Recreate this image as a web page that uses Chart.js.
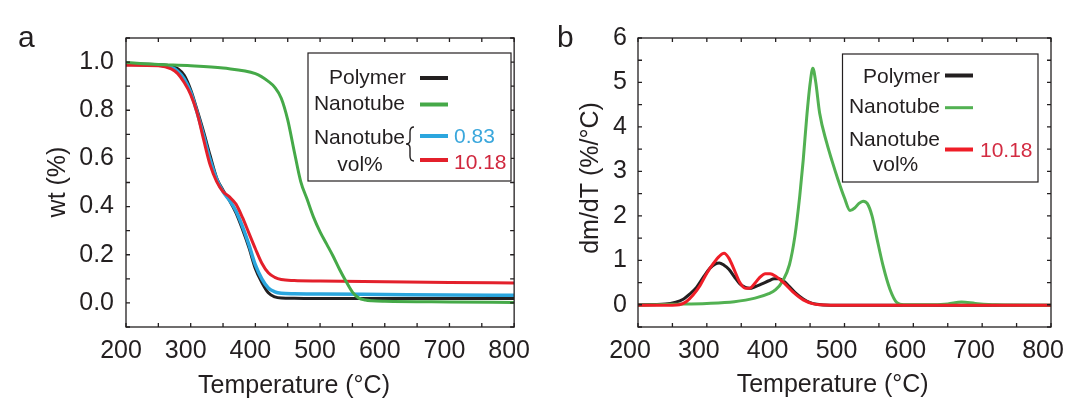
<!DOCTYPE html>
<html>
<head>
<meta charset="utf-8">
<script src="https://cdn.jsdelivr.net/npm/chart.js@4.4.1/dist/chart.umd.min.js"></script>
<style>
  html, body { margin: 0; padding: 0; background: #fff; }
  #wrap { position: relative; width: 1088px; height: 403px; }
  canvas { position: absolute; top: 0; }
  #chartA { left: 0; }
  #chartB { left: 544px; }
</style>
</head>
<body>
<div id="wrap">
  <canvas id="chartA" width="544" height="403"></canvas>
  <canvas id="chartB" width="544" height="403"></canvas>
</div>
<script>
// Panel a: weight fraction vs temperature (TGA)
const polymerTemp = [200, 250, 270, 280, 290, 300, 310, 320, 330, 340, 350, 360, 370, 380, 390, 400, 410, 420, 430, 440, 460, 500, 600, 700, 800];
const polymerWt   = [0.993, 0.99, 0.984, 0.972, 0.945, 0.885, 0.80, 0.71, 0.612, 0.52, 0.468, 0.425, 0.374, 0.306, 0.23, 0.142, 0.085, 0.042, 0.025, 0.02, 0.019, 0.018, 0.018, 0.018, 0.018];

const lowVolTemp = [200, 250, 270, 280, 290, 300, 310, 320, 330, 340, 350, 360, 370, 380, 390, 400, 410, 420, 430, 440, 460, 500, 600, 700, 800];
const lowVolWt   = [0.99, 0.988, 0.978, 0.962, 0.93, 0.875, 0.79, 0.695, 0.595, 0.515, 0.462, 0.426, 0.382, 0.318, 0.242, 0.158, 0.1, 0.062, 0.046, 0.04, 0.038, 0.037, 0.035, 0.033, 0.032];

const highVolTemp = [200, 250, 270, 280, 290, 300, 310, 320, 330, 340, 350, 360, 370, 380, 390, 400, 410, 420, 430, 440, 460, 500, 600, 700, 800];
const highVolWt   = [0.987, 0.985, 0.972, 0.952, 0.915, 0.865, 0.788, 0.678, 0.573, 0.505, 0.462, 0.44, 0.41, 0.355, 0.29, 0.225, 0.165, 0.125, 0.106, 0.097, 0.093, 0.091, 0.088, 0.085, 0.083];

const nanotubeTemp = [200, 250, 300, 350, 400, 420, 430, 440, 450, 460, 470, 480, 490, 500, 510, 520, 530, 540, 550, 560, 570, 580, 600, 700, 800];
const nanotubeWt   = [0.998, 0.99, 0.985, 0.975, 0.952, 0.92, 0.895, 0.85, 0.76, 0.63, 0.505, 0.43, 0.355, 0.295, 0.245, 0.195, 0.14, 0.09, 0.045, 0.02, 0.012, 0.009, 0.007, 0.004, 0.002];

// Panel b: derivative dm/dT vs temperature
const dtgPolymerTemp = [200, 240, 255, 265, 275, 285, 295, 305, 312, 318, 325, 332, 340, 348, 356, 362, 370, 380, 390, 398, 405, 412, 420, 430, 440, 450, 460, 480, 600, 800];
const dtgPolymer     = [0.0, 0.015, 0.06, 0.12, 0.24, 0.39, 0.62, 0.83, 0.915, 0.94, 0.89, 0.80, 0.63, 0.47, 0.39, 0.37, 0.405, 0.47, 0.54, 0.585, 0.585, 0.53, 0.41, 0.25, 0.13, 0.05, 0.01, -0.01, -0.01, -0.01];

const dtgHighVolTemp = [200, 250, 260, 270, 280, 290, 300, 310, 318, 325, 332, 340, 348, 356, 362, 368, 376, 385, 392, 400, 412, 425, 440, 455, 465, 480, 600, 800];
const dtgHighVol     = [-0.01, -0.01, 0.0, 0.07, 0.22, 0.43, 0.71, 0.94, 1.09, 1.16, 1.05, 0.78, 0.5, 0.37, 0.37, 0.45, 0.6, 0.7, 0.7, 0.64, 0.49, 0.29, 0.11, 0.02, 0.0, -0.01, -0.01, -0.01];

const dtgNanotubeTemp = [200, 250, 300, 340, 370, 390, 400, 410, 420, 428, 435, 440, 445, 450, 454, 458, 464, 474, 482, 490, 500, 508, 515, 521, 527, 533, 540, 547, 556, 566, 576, 586, 620, 650, 670, 690, 720, 800];
const dtgNanotube     = [-0.01, 0.01, 0.03, 0.07, 0.15, 0.25, 0.34, 0.53, 0.9, 1.55, 2.45, 3.25, 4.2, 4.97, 5.32, 5.03, 4.3, 3.65, 3.23, 2.84, 2.4, 2.12, 2.18, 2.28, 2.33, 2.28, 2.0, 1.5, 0.88, 0.35, 0.05, 0.0, 0.0, 0.02, 0.06, 0.03, 0.0, -0.01];

// tick labels
const xTickLabels = [200, 300, 400, 500, 600, 700, 800];
const wtTickLabels = [0, 0.2, 0.4, 0.6, 0.8, 1.0];
const dtgTickLabels = [0, 1, 2, 3, 4, 5, 6];

const INK = '#231f20';
const FONT = "'Liberation Sans', Arial, sans-serif";
const BLACK = '#231f20';
const GREEN = '#45a948';
const BLUE = '#2ba6de';
const RED = '#e3202b';
const GREEN_B = '#52b152';
const RED_B = '#ef1d27';

Chart.defaults.font.family = FONT;
Chart.defaults.color = INK;

function pts(xs, ys) {
  return xs.map((t, i) => ({ x: t, y: ys[i] }));
}

function line(label, xs, ys, color, width) {
  return {
    label: label,
    data: pts(xs, ys),
    borderColor: color,
    borderWidth: width,
    pointRadius: 0,
    fill: false,
    cubicInterpolationMode: 'monotone'
  };
}

// frame, inward ticks, axis titles and the hand-made legend
const decor = {
  id: 'decor',
  afterDraw(chart, args, opts) {
    const { ctx, chartArea: area, scales } = chart;
    const x = scales.x, y = scales.y;
    ctx.save();
    ctx.strokeStyle = INK;
    ctx.lineWidth = 1.3;
    ctx.strokeRect(area.left, area.top, area.right - area.left, area.bottom - area.top);

    ctx.beginPath();
    const nx = Math.round((x.max - x.min) / opts.xMinor);
    for (let i = 0; i <= nx; i++) {
      const px = x.getPixelForValue(x.min + i * opts.xMinor);
      ctx.moveTo(px, area.bottom); ctx.lineTo(px, area.bottom - 4);
      ctx.moveTo(px, area.top); ctx.lineTo(px, area.top + 4);
    }
    const ny = Math.round((y.max - y.min) / opts.yMinor);
    for (let i = 0; i <= ny; i++) {
      const py = y.getPixelForValue(y.min + i * opts.yMinor);
      ctx.moveTo(area.left, py); ctx.lineTo(area.left + 4, py);
      ctx.moveTo(area.right, py); ctx.lineTo(area.right - 4, py);
    }
    ctx.stroke();

    // legend box
    const b = opts.box;
    ctx.fillStyle = '#fff';
    ctx.fillRect(b[0], b[1], b[2], b[3]);
    ctx.lineWidth = 1.2;
    ctx.strokeRect(b[0], b[1], b[2], b[3]);

    opts.swatches.forEach(s => {
      ctx.strokeStyle = s.color;
      ctx.lineWidth = s.width;
      ctx.beginPath();
      ctx.moveTo(s.x1, s.y);
      ctx.lineTo(s.x2, s.y);
      ctx.stroke();
    });

    if (opts.brace) {
      const [bx, top, mid, bot] = opts.brace;
      ctx.strokeStyle = INK;
      ctx.lineWidth = 1.4;
      ctx.beginPath();
      ctx.moveTo(bx + 6, top);
      ctx.quadraticCurveTo(bx + 2, top, bx + 2, top + 5);
      ctx.lineTo(bx + 2, mid - 4);
      ctx.quadraticCurveTo(bx + 2, mid, bx - 2, mid);
      ctx.quadraticCurveTo(bx + 2, mid, bx + 2, mid + 4);
      ctx.lineTo(bx + 2, bot - 5);
      ctx.quadraticCurveTo(bx + 2, bot, bx + 6, bot);
      ctx.stroke();
    }

    opts.texts.forEach(t => {
      ctx.save();
      ctx.font = t.size + 'px ' + FONT;
      ctx.fillStyle = t.color || INK;
      ctx.textAlign = t.align || 'left';
      ctx.textBaseline = t.baseline || 'alphabetic';
      ctx.translate(t.x, t.y);
      if (t.rot) ctx.rotate(t.rot);
      ctx.fillText(t.text, 0, 0);
      ctx.restore();
    });
    ctx.restore();
  }
};

function axes(yMin, yMax, yTicks, yWidth, yFmt, xOffset, yPad) {
  return {
    x: {
      type: 'linear',
      min: 200,
      max: 800,
      afterFit(scale) { scale.height = 76; },
      afterBuildTicks(scale) { scale.ticks = xTickLabels.map(v => ({ value: v })); },
      grid: { display: false, drawTicks: false },
      border: { display: false },
      ticks: { font: { size: 25 }, padding: 9, maxRotation: 0, autoSkip: false, labelOffset: xOffset, color: INK }
    },
    y: {
      min: yMin,
      max: yMax,
      afterFit(scale) { scale.width = yWidth; },
      afterBuildTicks(scale) { scale.ticks = yTicks.map(v => ({ value: v })); },
      grid: { display: false, drawTicks: false },
      border: { display: false },
      ticks: { font: { size: 25 }, padding: yPad, color: INK, autoSkip: false, callback: yFmt }
    }
  };
}

new Chart(document.getElementById('chartA'), {
  type: 'line',
  data: {
    datasets: [
      line('Nanotube', nanotubeTemp, nanotubeWt, GREEN, 3),
      line('10.18', highVolTemp, highVolWt, RED, 3),
      line('0.83', lowVolTemp, lowVolWt, BLUE, 3.5),
      line('Polymer', polymerTemp, polymerWt, BLACK, 3)
    ]
  },
  options: {
    responsive: false,
    animation: false,
    layout: { padding: { top: 38, right: 27, left: 0, bottom: 0 } },
    scales: axes(-0.1, 1.1, wtTickLabels, 126, v => Number(v).toFixed(1), -5, 12),
    plugins: {
      legend: { display: false },
      tooltip: { enabled: false },
      decor: {
        xMinor: 50,
        yMinor: 0.1,
        box: [308, 53, 203, 128],
        swatches: [
          { x1: 420, x2: 448, y: 78, color: BLACK, width: 4 },
          { x1: 420, x2: 448, y: 104.5, color: GREEN, width: 4 },
          { x1: 420, x2: 448, y: 136, color: BLUE, width: 4 },
          { x1: 420, x2: 448, y: 160, color: RED, width: 4 }
        ],
        brace: [408, 127, 144, 161],
        texts: [
          { text: 'a', x: 18, y: 47, size: 30 },
          { text: 'wt (%)', x: 58.5, y: 182, size: 25, align: 'center', baseline: 'middle', rot: -Math.PI / 2 },
          { text: 'Temperature (°C)', x: 294, y: 393, size: 25, align: 'center' },
          { text: 'Polymer', x: 406, y: 83.5, size: 21, align: 'right' },
          { text: 'Nanotube', x: 405, y: 109.5, size: 21, align: 'right' },
          { text: 'Nanotube', x: 405, y: 144, size: 21, align: 'right' },
          { text: 'vol%', x: 360, y: 171, size: 21, align: 'center' },
          { text: '0.83', x: 454, y: 143, size: 21, color: '#3aa7dc' },
          { text: '10.18', x: 454, y: 169, size: 21, color: '#d0283e' }
        ]
      }
    }
  },
  plugins: [decor]
});

new Chart(document.getElementById('chartB'), {
  type: 'line',
  data: {
    datasets: [
      line('10.18', dtgHighVolTemp, dtgHighVol, RED_B, 3),
      line('Nanotube', dtgNanotubeTemp, dtgNanotube, GREEN_B, 3),
      line('Polymer', dtgPolymerTemp, dtgPolymer, BLACK, 3)
    ]
  },
  options: {
    responsive: false,
    animation: false,
    layout: { padding: { top: 38, right: 37, left: 0, bottom: 0 } },
    scales: axes(-0.5, 6, dtgTickLabels, 94, v => String(v), -8, 11),
    plugins: {
      legend: { display: false },
      tooltip: { enabled: false },
      decor: {
        xMinor: 50,
        yMinor: 0.5,
        box: [298.5, 54, 195.5, 128],
        swatches: [
          { x1: 401, x2: 429, y: 75.5, color: BLACK, width: 4 },
          { x1: 401, x2: 429, y: 107.7, color: GREEN_B, width: 3 },
          { x1: 401, x2: 429, y: 149.5, color: RED_B, width: 4 }
        ],
        brace: null,
        texts: [
          { text: 'b', x: 13, y: 47, size: 30 },
          { text: 'dm/dT (%/°C)', x: 47.5, y: 178, size: 25, align: 'center', baseline: 'middle', rot: -Math.PI / 2 },
          { text: 'Temperature (°C)', x: 288.7, y: 392, size: 25, align: 'center' },
          { text: 'Polymer', x: 396, y: 82.7, size: 21, align: 'right' },
          { text: 'Nanotube', x: 396, y: 112.7, size: 21, align: 'right' },
          { text: 'Nanotube', x: 396, y: 146, size: 21, align: 'right' },
          { text: 'vol%', x: 351.5, y: 170.7, size: 21, align: 'center' },
          { text: '10.18', x: 436, y: 157, size: 21, color: '#d32c42' }
        ]
      }
    }
  },
  plugins: [decor]
});
</script>
</body>
</html>
